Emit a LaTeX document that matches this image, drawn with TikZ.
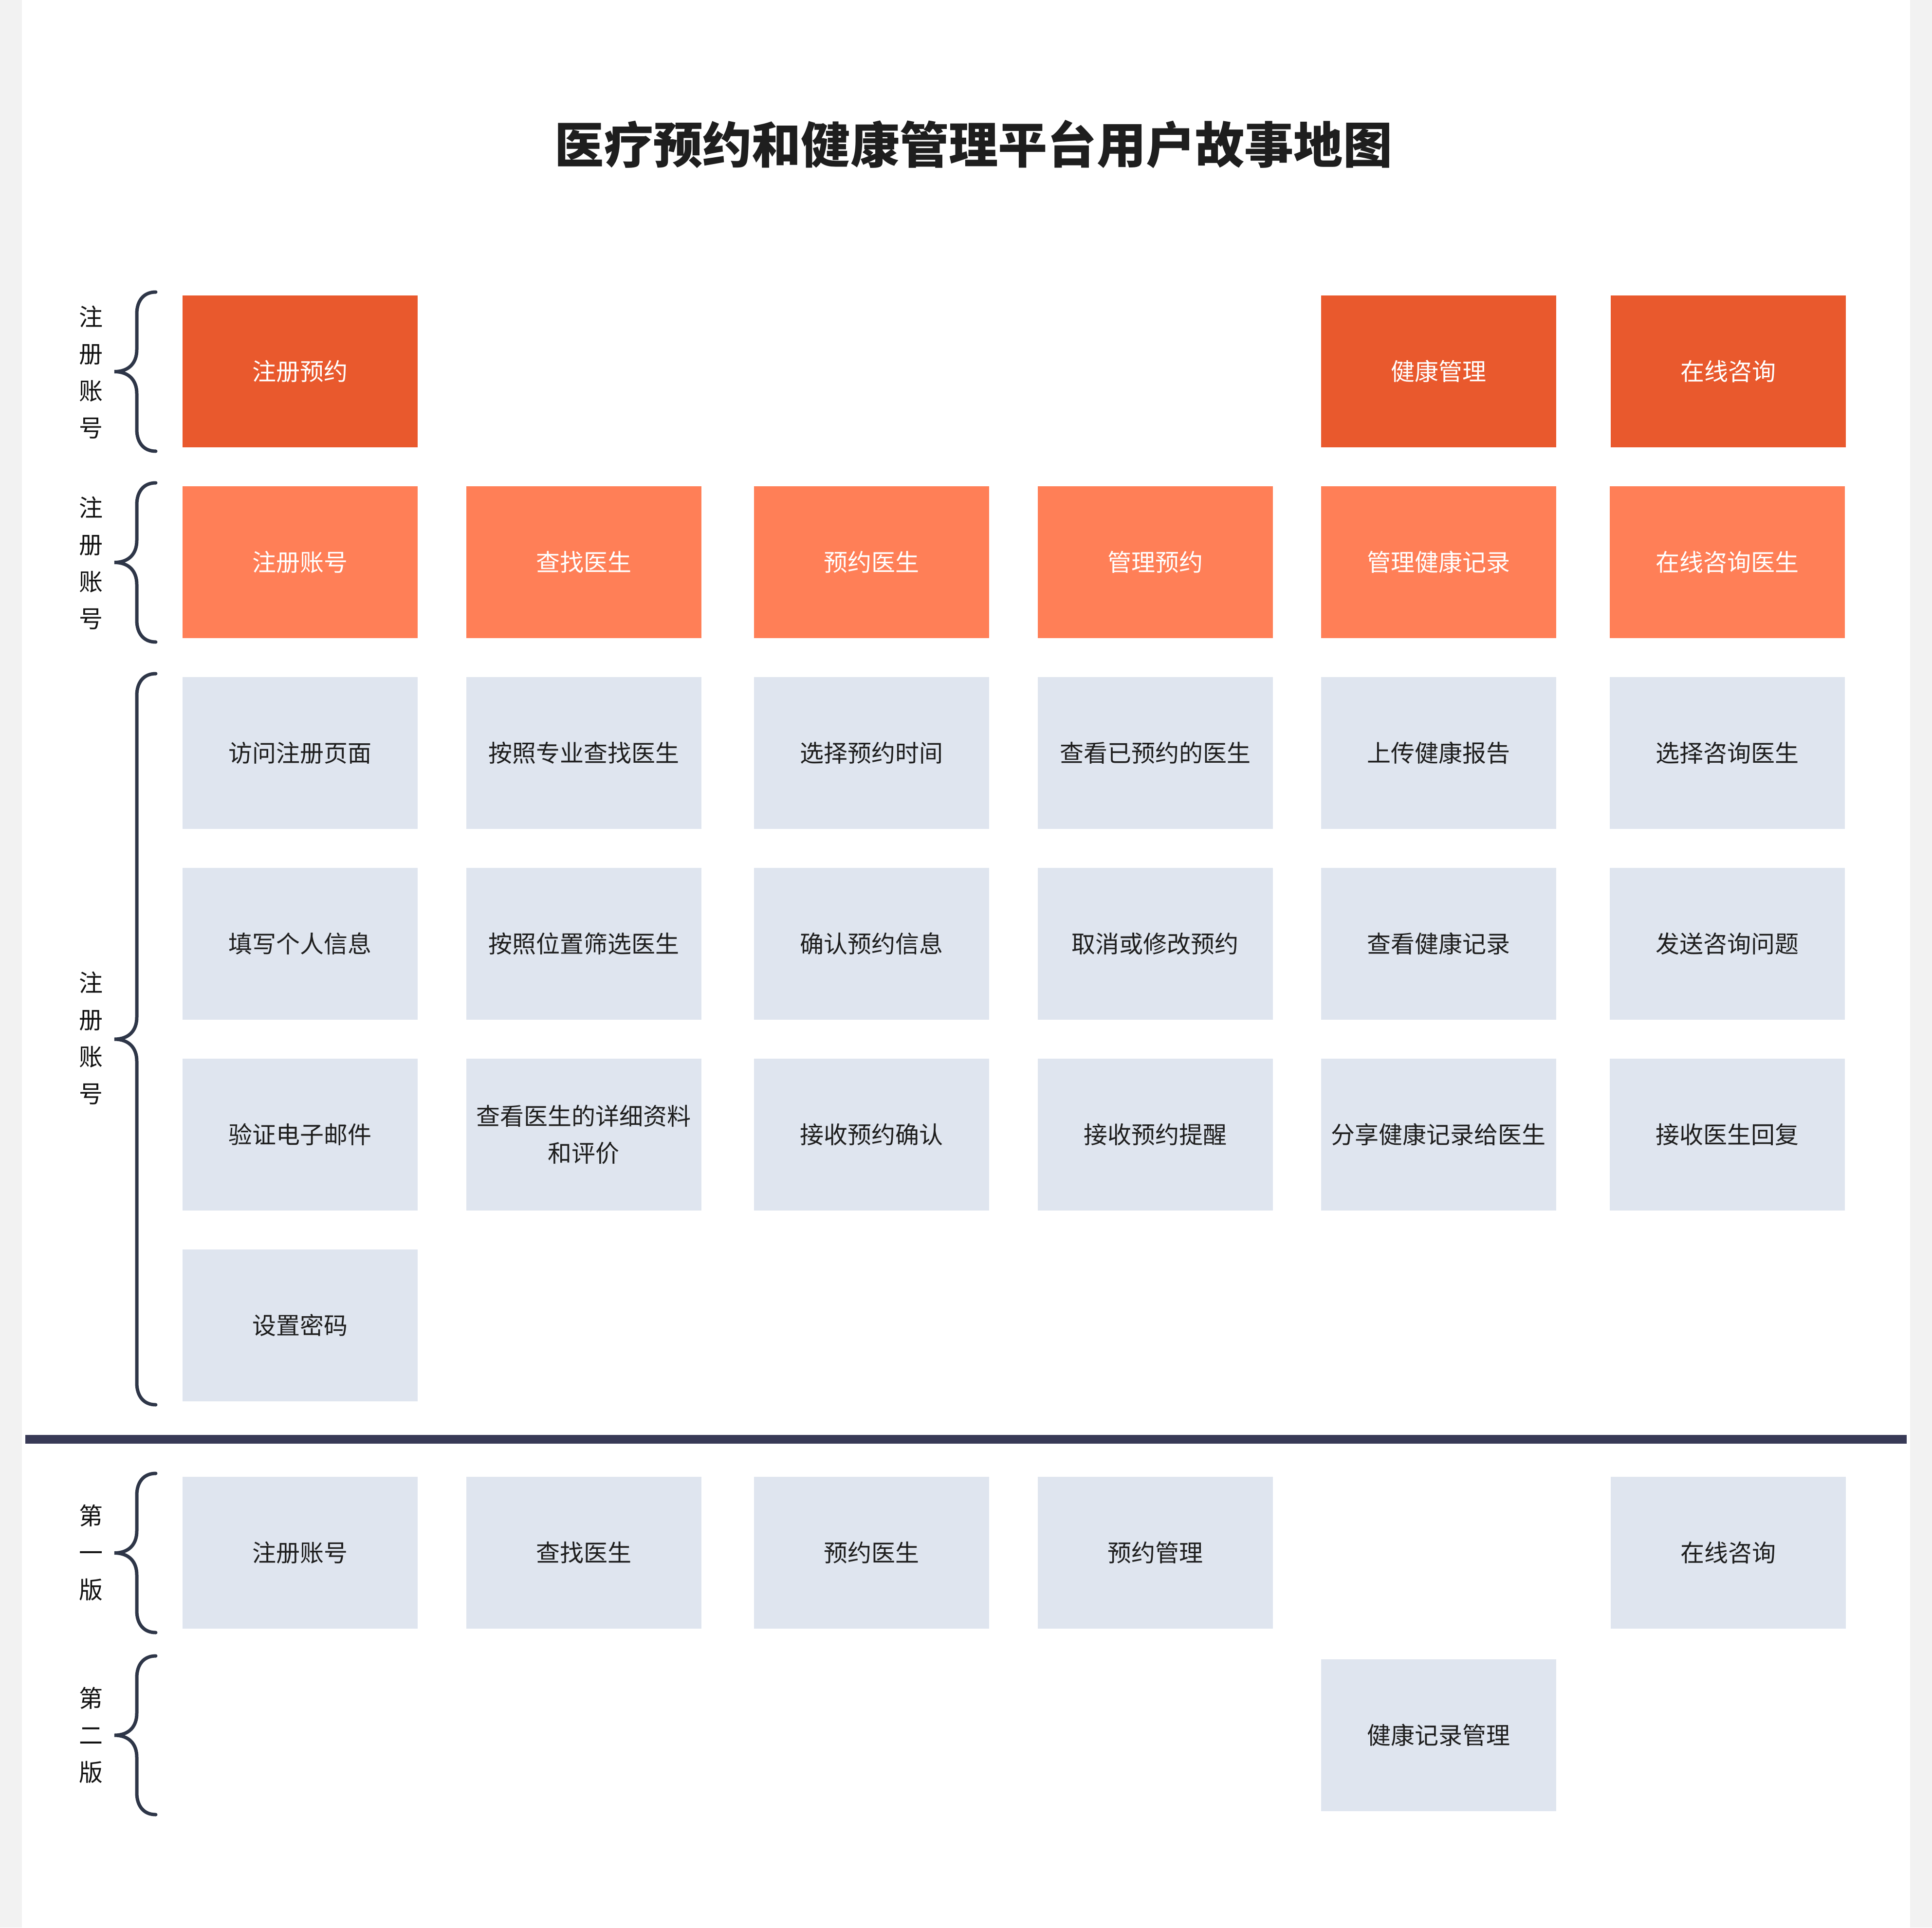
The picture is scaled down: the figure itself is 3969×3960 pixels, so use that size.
\documentclass[tikz,border=0pt]{standalone}
\usepackage{fontspec}
\setmainfont{Noto Sans CJK SC}
\definecolor{bgC}{HTML}{F2F2F2}
\definecolor{epicC}{HTML}{E9592D}
\definecolor{featC}{HTML}{FF7F57}
\definecolor{taskC}{HTML}{DFE5EF}
\definecolor{txtC}{HTML}{1E1E1E}
\definecolor{labC}{HTML}{111111}
\definecolor{braceC}{HTML}{2E3648}
\definecolor{divC}{HTML}{383A56}
\newcommand\mybrace[2]{%
  \pgfmathsetmacro\bt{#1}\pgfmathsetmacro\bb{#2}\pgfmathsetmacro\bm{(#1+#2)/2}%
  \draw[bracestyle] (320,\bt) .. controls (295,\bt) and (281,\bt+18) .. (281,\bt+45)
    -- (281,\bm-45) .. controls (281,\bm-18) and (265,\bm) .. (235,\bm)
    .. controls (265,\bm) and (281,\bm+18) .. (281,\bm+45)
    -- (281,\bb-45) .. controls (281,\bb-18) and (295,\bb) .. (320,\bb);}
\begin{document}
\begin{tikzpicture}[x=0.25pt,y=-0.25pt,
  box/.style={rectangle,minimum width=120.75pt,minimum height=78pt,inner sep=0pt,align=center,font=\fontsize{12.25}{19}\selectfont},
  epic/.style={box,fill=epicC,text=white},
  feat/.style={box,fill=featC,text=white},
  task/.style={box,fill=taskC,text=txtC},
  lab/.style={align=center,font=\fontsize{12.25}{19}\selectfont,text=labC,inner sep=0pt},
  bracestyle/.style={draw=braceC,line width=1.75pt,line cap=round}]
\fill[bgC] (0,0) rectangle (3969,3960);
\fill[white] (45,0) rectangle (3924,3960);
\useasboundingbox (0,0) rectangle (3969,3960);

\node[font=\fontsize{25.3}{30}\selectfont\bfseries,text=txtC] (title) at (2000,296) {医疗预约和健康管理平台用户故事地图};

% row 1: epics
\node[epic] (e1) at (616.5,763) {注册预约};
\node[epic] (e5) at (2955,763) {健康管理};
\node[epic] (e6) at (3550,763) {在线咨询};

% row 2: features
\node[feat] (f1) at (616.5,1155) {注册账号};
\node[feat] (f2) at (1199,1155) {查找医生};
\node[feat] (f3) at (1790.5,1155) {预约医生};
\node[feat] (f4) at (2373,1155) {管理预约};
\node[feat] (f5) at (2955,1155) {管理健康记录};
\node[feat] (f6) at (3548,1155) {在线咨询医生};

% row 3
\node[task] (t31) at (616.5,1547) {访问注册页面};
\node[task] (t32) at (1199,1547) {按照专业查找医生};
\node[task] (t33) at (1790.5,1547) {选择预约时间};
\node[task] (t34) at (2373,1547) {查看已预约的医生};
\node[task] (t35) at (2955,1547) {上传健康报告};
\node[task] (t36) at (3548,1547) {选择咨询医生};

% row 4
\node[task] (t41) at (616.5,1939) {填写个人信息};
\node[task] (t42) at (1199,1939) {按照位置筛选医生};
\node[task] (t43) at (1790.5,1939) {确认预约信息};
\node[task] (t44) at (2373,1939) {取消或修改预约};
\node[task] (t45) at (2955,1939) {查看健康记录};
\node[task] (t46) at (3548,1939) {发送咨询问题};

% row 5
\node[task] (t51) at (616.5,2331) {验证电子邮件};
\node[task] (t52) at (1199,2331) {查看医生的详细资料\\和评价};
\node[task] (t53) at (1790.5,2331) {接收预约确认};
\node[task] (t54) at (2373,2331) {接收预约提醒};
\node[task] (t55) at (2955,2331) {分享健康记录给医生};
\node[task] (t56) at (3548,2331) {接收医生回复};

% row 6
\node[task] (t61) at (616.5,2723) {设置密码};

% divider
\fill[divC] (52,2948) rectangle (3917,2966);

% release 1
\node[task] (v11) at (616.5,3190) {注册账号};
\node[task] (v12) at (1199,3190) {查找医生};
\node[task] (v13) at (1790.5,3190) {预约医生};
\node[task] (v14) at (2373,3190) {预约管理};
\node[task] (v16) at (3550,3190) {在线咨询};

% release 2
\node[task] (v25) at (2955,3565) {健康记录管理};

% braces and labels
\mybrace{600}{927}
\mybrace{992}{1319}
\mybrace{1384}{2886}
\mybrace{3027}{3354}
\mybrace{3402}{3728}
\node[lab] (l1) at (187,765) {注\\册\\账\\号};
\node[lab] (l2) at (187,1157) {注\\册\\账\\号};
\node[lab] (l3) at (187,2133) {注\\册\\账\\号};
\node[lab] (l4) at (187,3190) {第\\一\\版};
\node[lab] (l5) at (187,3565) {第\\二\\版};
\end{tikzpicture}
\end{document}
